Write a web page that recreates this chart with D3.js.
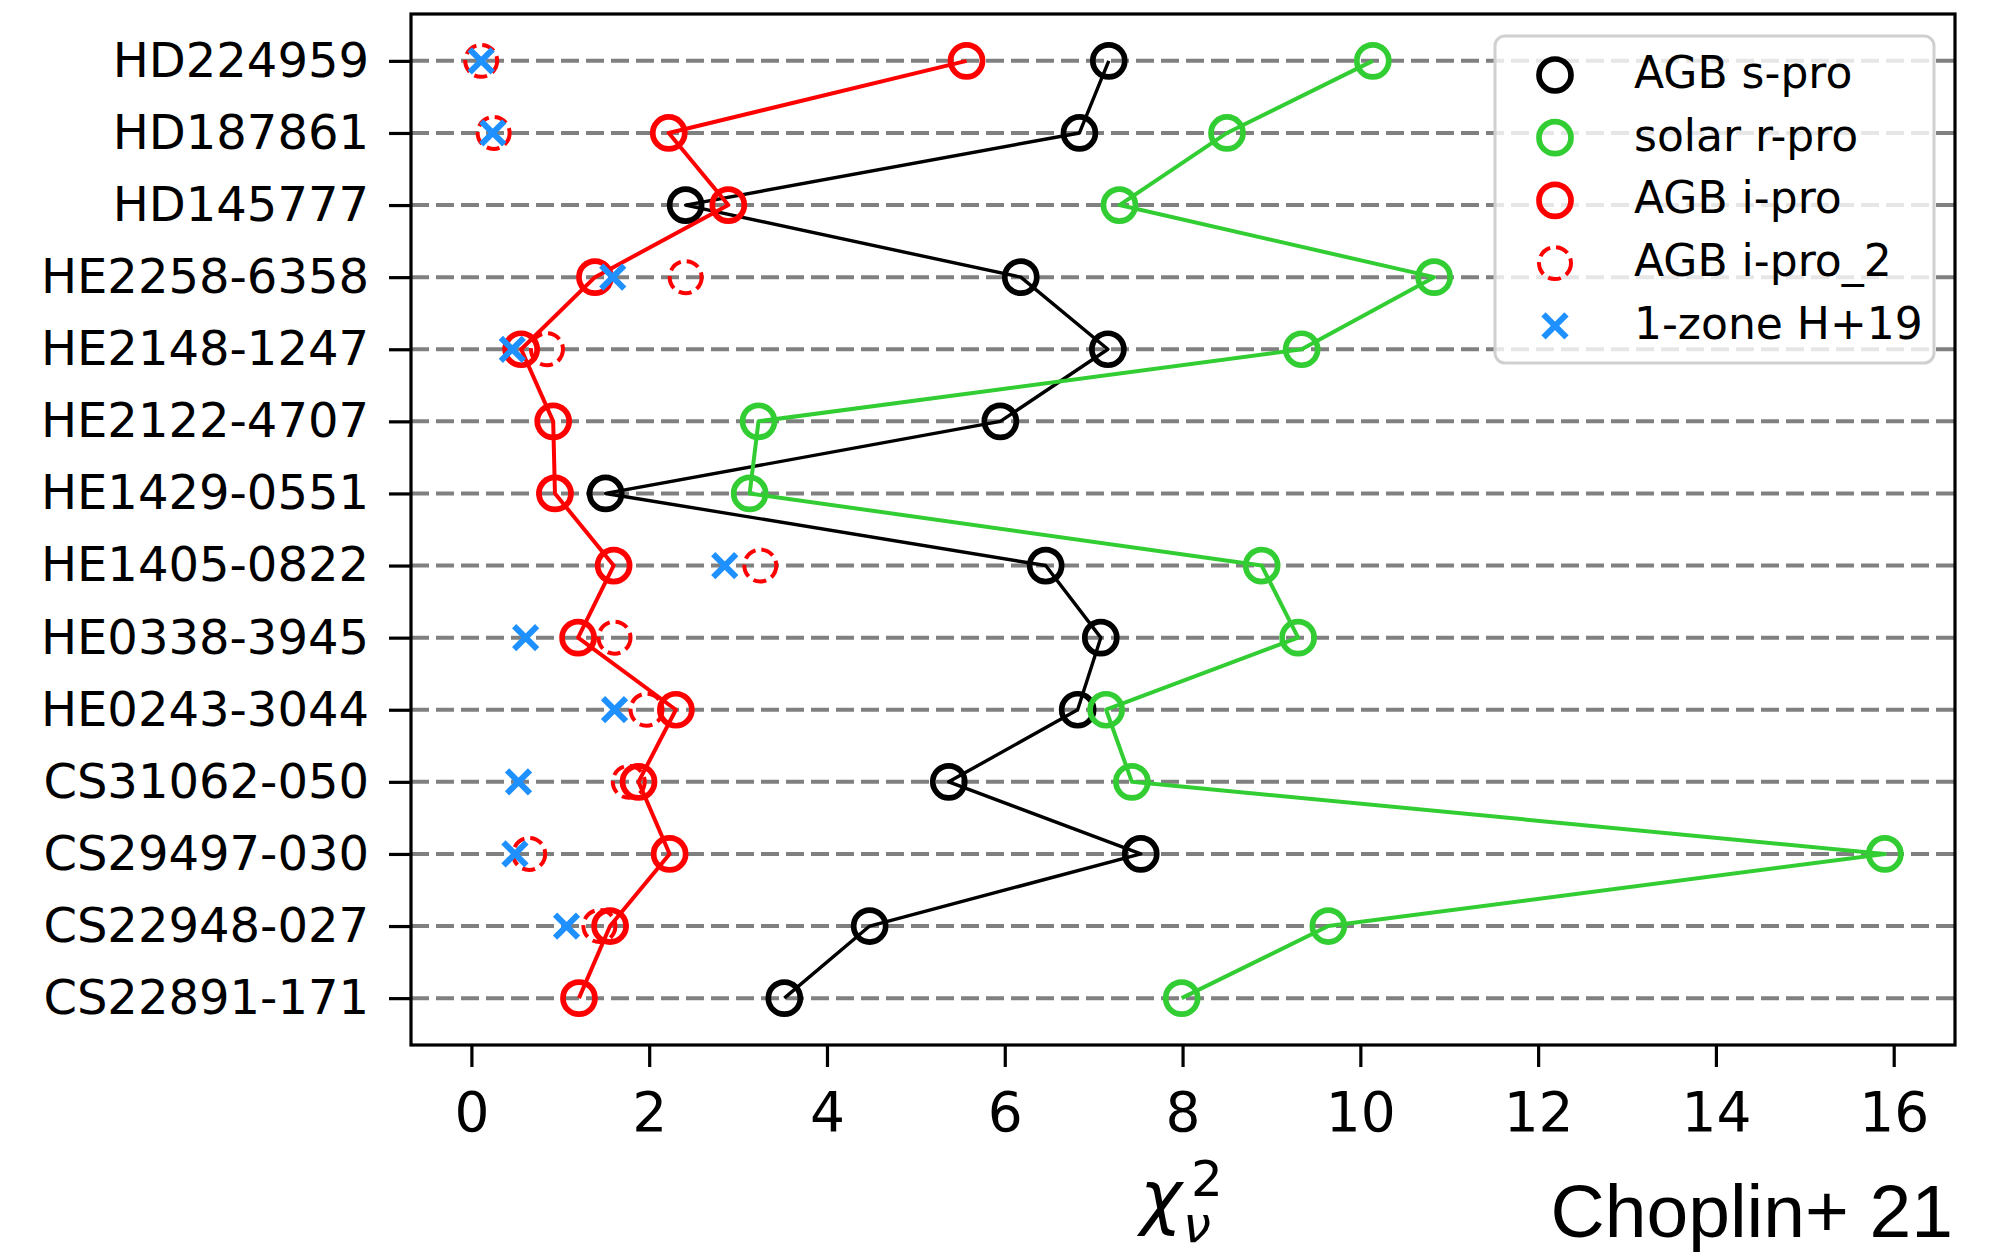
<!DOCTYPE html>
<html>
<head>
<meta charset="utf-8">
<script src="https://cdn.jsdelivr.net/npm/d3@7"></script>
<style>
  html, body { margin: 0; padding: 0; background: #fff; }
  svg { display: block; }
</style>
</head>
<body>
<svg id="chart" width="1997" height="1254"></svg>
<script>
// Stars, listed from top row to bottom row
const stars = ["HD224959", "HD187861", "HD145777", "HE2258-6358", "HE2148-1247",
  "HE2122-4707", "HE1429-0551", "HE1405-0822", "HE0338-3945", "HE0243-3044",
  "CS31062-050", "CS29497-030", "CS22948-027", "CS22891-171"];

// Reduced chi-square of each model fit (null = no fit shown)
const agbS   = [7.17, 6.84, 2.41, 6.18, 7.16, 5.95, 1.51, 6.46, 7.08, 6.82, 5.37, 7.53, 4.48, 3.52];
const solarR = [10.14, 8.50, 7.29, 10.83, 9.34, 3.23, 3.13, 8.89, 9.30, 7.14, 7.43, 15.90, 9.64, 7.99];
const agbI   = [5.57, 2.22, 2.89, 1.39, 0.56, 0.92, 0.94, 1.60, 1.20, 2.30, 1.88, 2.23, 1.56, 1.21];
const agbI2  = [0.11, 0.25, null, 2.41, 0.85, null, null, 3.25, 1.61, 1.97, 1.77, 0.65, 1.44, null];
const oneZone = [0.11, 0.24, null, 1.59, 0.46, null, null, 2.85, 0.61, 1.61, 0.53, 0.49, 1.07, null];

const xTicks = [0, 2, 4, 6, 8, 10, 12, 14, 16];

const legendItems = [
  { label: "AGB s-pro", kind: "circle", color: "#000000", dashed: false },
  { label: "solar r-pro", kind: "circle", color: "#32cd32", dashed: false },
  { label: "AGB i-pro", kind: "circle", color: "#ff0000", dashed: false },
  { label: "AGB i-pro_2", kind: "circle", color: "#ff0000", dashed: true },
  { label: "1-zone H+19", kind: "cross", color: "#1e90ff", dashed: false }
];

const svg = d3.select("#chart");
const box = { left: 411, right: 1955, top: 14, bottom: 1045 };

// x domain: data extent with a 5% margin on each side
const allVals = [].concat(agbS, solarR, agbI, agbI2, oneZone).filter(v => v != null);
const [lo, hi] = d3.extent(allVals);
const pad = (hi - lo) * 0.05;
const x = d3.scaleLinear().domain([lo - pad, hi + pad]).range([box.left, box.right]);
const y = d3.scalePoint().domain(stars.slice().reverse()).range([box.bottom, box.top]).padding(0.65);

const series = vals => vals.map((v, i) => ({ star: stars[i], v })).filter(d => d.v != null);

// dashed guide line for every star
svg.append("g").selectAll("line").data(stars).join("line")
  .attr("x1", box.left).attr("x2", box.right)
  .attr("y1", d => y(d)).attr("y2", d => y(d))
  .attr("stroke", "#808080").attr("stroke-width", 4)
  .attr("stroke-dasharray", "18,7");

const line = d3.line().x(d => x(d.v)).y(d => y(d.star));
const R = 16;
const RING = 5.7;
const DASH = "13,6";

function circles(vals, color, dashed, connect, lw) {
  const g = svg.append("g");
  const data = series(vals);
  if (connect) {
    g.append("path").datum(data).attr("d", line)
      .attr("fill", "none").attr("stroke", color).attr("stroke-width", lw)
      .attr("stroke-linejoin", "round");
  }
  g.selectAll("circle").data(data).join("circle")
    .attr("cx", d => x(d.v)).attr("cy", d => y(d.star)).attr("r", R)
    .attr("fill", "none").attr("stroke", color)
    .attr("stroke-width", dashed ? 4 : RING)
    .attr("stroke-dasharray", dashed ? DASH : null);
}

function crossPath(cx, cy, s) {
  return `M${cx - s},${cy - s}L${cx + s},${cy + s}M${cx - s},${cy + s}L${cx + s},${cy - s}`;
}

circles(agbS, "#000000", false, true, 3.4);
circles(solarR, "#32cd32", false, true, 4);
circles(agbI, "#ff0000", false, true, 4);
circles(agbI2, "#ff0000", true, false, 0);

svg.append("g").selectAll("path").data(series(oneZone)).join("path")
  .attr("d", d => crossPath(x(d.v), y(d.star), 11.5))
  .attr("stroke", "#1e90ff").attr("stroke-width", 6).attr("fill", "none");

// axes
const xAxis = d3.axisBottom(x).tickValues(xTicks).tickSize(22).tickPadding(25).tickFormat(d3.format("d"));
const gx = svg.append("g").attr("transform", `translate(0,${box.bottom})`).call(xAxis);
gx.select(".domain").remove();
gx.selectAll(".tick line").attr("stroke", "#000").attr("stroke-width", 3.2);
gx.selectAll(".tick text").attr("font-family", "DejaVu Sans").attr("font-size", 55).attr("fill", "#000");

const yAxis = d3.axisLeft(y).tickSize(22).tickPadding(20);
const gy = svg.append("g").attr("transform", `translate(${box.left},0)`).call(yAxis);
gy.select(".domain").remove();
gy.selectAll(".tick line").attr("stroke", "#000").attr("stroke-width", 3.2);
gy.selectAll(".tick text").attr("font-family", "DejaVu Sans").attr("font-size", 48).attr("fill", "#000");

// frame
svg.append("rect")
  .attr("x", box.left).attr("y", box.top)
  .attr("width", box.right - box.left).attr("height", box.bottom - box.top)
  .attr("fill", "none").attr("stroke", "#000").attr("stroke-width", 3.2);

// legend
const lg = svg.append("g");
lg.append("rect").attr("x", 1495).attr("y", 36).attr("width", 439).attr("height", 327)
  .attr("rx", 10).attr("fill", "#fff").attr("fill-opacity", 0.8)
  .attr("stroke", "#d0d0d0").attr("stroke-width", 3);
legendItems.forEach((it, i) => {
  const cy = 75 + i * 62.7;
  if (it.kind === "circle") {
    lg.append("circle").attr("cx", 1555).attr("cy", cy).attr("r", R)
      .attr("fill", "none").attr("stroke", it.color)
      .attr("stroke-width", it.dashed ? 4 : RING)
      .attr("stroke-dasharray", it.dashed ? DASH : null);
  } else {
    lg.append("path").attr("d", crossPath(1555, cy, 11.5))
      .attr("stroke", it.color).attr("stroke-width", 6).attr("fill", "none");
  }
  lg.append("text").attr("x", 1634).attr("y", cy + 13)
    .attr("font-family", "DejaVu Sans").attr("font-size", 44).attr("fill", "#000")
    .text(it.label);
});

// x-axis label: reduced chi-square, with stacked super- and subscript
const xl = svg.append("text").attr("font-family", "DejaVu Sans").attr("fill", "#000");
xl.append("tspan").attr("x", 1140).attr("y", 1221).attr("font-size", 71).attr("font-style", "italic").text("χ");
xl.append("tspan").attr("x", 1191).attr("y", 1196).attr("font-size", 50).text("2");
xl.append("tspan").attr("x", 1183).attr("y", 1242).attr("font-size", 50).attr("font-style", "italic").text("ν");

// citation
svg.append("text").attr("x", 1953).attr("y", 1237).attr("text-anchor", "end")
  .attr("font-family", "Liberation Sans").attr("font-size", 75).attr("fill", "#000")
  .text("Choplin+ 21");
</script>
</body>
</html>
